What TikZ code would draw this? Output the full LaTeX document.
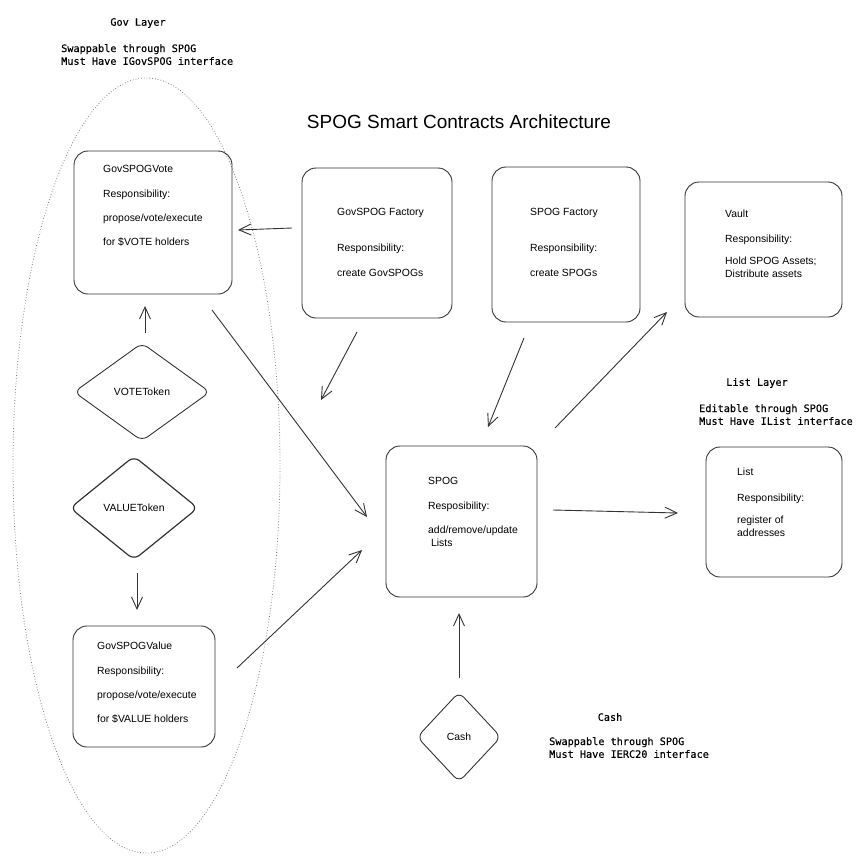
\documentclass[tikz,border=0pt]{standalone}
\usepackage{fontspec}
\setmainfont{Liberation Sans}
\newfontfamily\monof[FakeBold=0.35]{DejaVu Sans Mono}
\usetikzlibrary{arrows.meta,shapes.geometric}
\definecolor{ink}{HTML}{333333}
\tikzset{
  box/.style={draw=ink, line width=0.9pt, rounded corners=14pt, minimum width=#1, inner sep=0pt},
  dia/.style={diamond, draw=ink, line width=0.9pt, rounded corners=7pt, inner sep=0pt, font=\fontsize{10.4}{12.5}\selectfont},
  txt/.style={anchor=north west, inner sep=0pt, align=left, font=\fontsize{10.4}{12.5}\selectfont},
  mono/.style={inner sep=0pt, align=left, font=\monof\fontsize{10.2}{12.8}\selectfont},
  arr/.style={draw=ink, line width=0.9pt, -{Straight Barb[length=12pt,width=11pt]}},
}
\begin{document}
\begin{tikzpicture}[x=1pt,y=-1pt]
\useasboundingbox (0,0) rectangle (862,867);
% gov layer ellipse
\draw[gray, dotted, line width=0.8pt] (146.5,465.5) ellipse [x radius=133.5, y radius=387.5];
% title
\node[inner sep=0pt, font=\fontsize{19}{22}\selectfont] (title) at (459,122) {SPOG Smart Contracts Architecture};
% layer notes
\node[mono, anchor=center] (govl) at (138,23) {Gov Layer};
\node[mono, anchor=north west] (govn) at (61,44) {Swappable through SPOG\\Must Have IGovSPOG interface};
\node[mono, anchor=center] (listl) at (757,383) {List Layer};
\node[mono, anchor=north west] (listn) at (699,404) {Editable through SPOG\\Must Have IList interface};
\node[mono, anchor=center] (cashl) at (610,717) {Cash};
\node[mono, anchor=north west] (cashn) at (549,737) {Swappable through SPOG\\Must Have IERC20 interface};
% boxes
\node[box=158pt, minimum height=143pt] (vote) at (153,222.5) {};
\node[txt] (votet) at (103,164) {\strut GovSPOGVote\\[12pt]Responsibility:\\[11.5pt]propose/vote/execute\\[11.5pt]for \$VOTE holders};
\node[box=150pt, minimum height=150pt] (gf) at (377,243) {};
\node[txt] (gft) at (337,207) {\strut GovSPOG Factory\\[23.5pt]Responsibility:\\[12.5pt]create GovSPOGs};
\node[box=148pt, minimum height=155pt] (sf) at (566,244.5) {};
\node[txt] (sft) at (530,207) {\strut SPOG Factory\\[23.5pt]Responsibility:\\[12.5pt]create SPOGs};
\node[box=157pt, minimum height=135pt] (vault) at (763.5,249.5) {};
\node[txt] (vaultt) at (725,209) {\strut Vault\\[12.5pt]Responsibility:\\[9.5pt]Hold SPOG Assets;\\Distribute assets};
\node[box=151pt, minimum height=151pt] (spog) at (461.5,521.5) {};
\node[txt] (spogt) at (428,476) {\strut SPOG\\[12.5pt]Resposibility:\\[11.5pt]add/remove/update\\\ Lists};
\node[box=136pt, minimum height=130pt] (list) at (774,512) {};
\node[txt] (listt) at (737,467) {\strut List\\[13.5pt]Responsibility:\\[9.5pt]register of\\addresses};
\node[box=142pt, minimum height=121pt] (value) at (144,686.5) {};
\node[txt] (valuet) at (97,641) {\strut GovSPOGValue\\[12.5pt]Responsibility:\\[11.5pt]propose/vote/execute\\[11.5pt]for \$VALUE holders};
% diamonds
\node[dia, minimum width=136pt, minimum height=98pt] (votetok) at (142,392) {VOTEToken};
\node[dia, minimum width=128pt, minimum height=104pt, line width=1.2pt] (valtok) at (134,508) {VALUEToken};
\node[dia, minimum width=84pt, minimum height=90pt] (cash) at (459,737) {Cash};
% arrow end points
\coordinate (a1s) at (292,228); \coordinate (a1e) at (238,230);
\coordinate (a2s) at (145,333); \coordinate (a2e) at (145,306);
\coordinate (a3s) at (212,310); \coordinate (a3e) at (367,517);
\coordinate (a4s) at (357,332); \coordinate (a4e) at (321,400);
\coordinate (a5s) at (524,338); \coordinate (a5e) at (488,427);
\coordinate (a6s) at (555,428); \coordinate (a6e) at (667,312);
\coordinate (a7s) at (553,510); \coordinate (a7e) at (678,513);
\coordinate (a8s) at (137,573); \coordinate (a8e) at (137,610);
\coordinate (a9s) at (237,668); \coordinate (a9e) at (362,550);
\coordinate (a10s) at (459,678); \coordinate (a10e) at (459,613);
% connectors
\draw[arr] (a1s) -- (a1e);
\draw[arr] (a2s) -- (a2e);
\draw[arr] (a3s) -- (a3e);
\draw[arr] (a4s) -- (a4e);
\draw[arr] (a5s) -- (a5e);
\draw[arr] (a6s) -- (a6e);
\draw[arr] (a7s) -- (a7e);
\draw[arr] (a8s) -- (a8e);
\draw[arr] (a9s) -- (a9e);
\draw[arr] (a10s) -- (a10e);
\end{tikzpicture}
\end{document}
